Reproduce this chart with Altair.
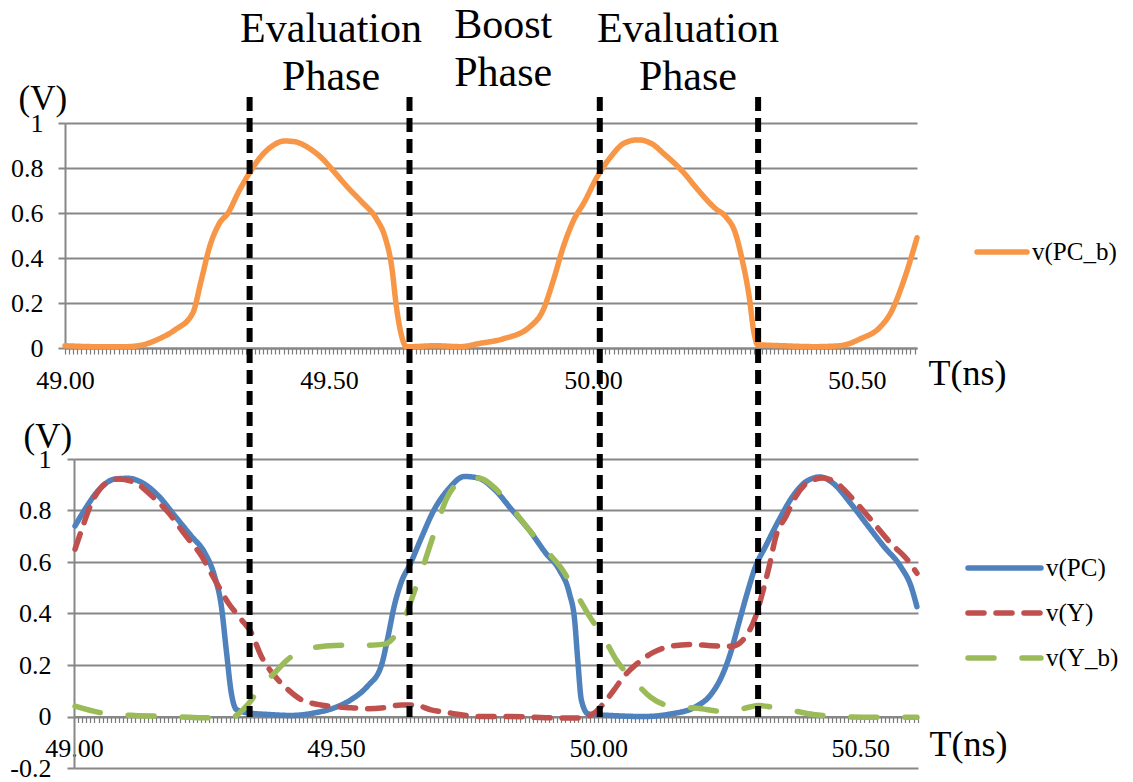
import altair as alt
import pandas as pd

SERIF = "Liberation Serif"
GRID = "#878787"

# ---------------- data ----------------
# time axis (ns)
X_START = 49.0
X_END_TOP = 50.614
X_END_BOT = 50.61
TICK_LABELS = [49.0, 49.5, 50.0, 50.5]
TICK_STEP = 0.5 / 64          # spacing of the minor ticks on the time axis
Y_TICKS_TOP = [0, 0.2, 0.4, 0.6, 0.8, 1]
Y_TICKS_BOT = [-0.2, 0, 0.2, 0.4, 0.6, 0.8, 1]

# phase boundaries and phase captions
PHASE_BOUNDS = [49.335, 49.64, 50.003, 50.305]
PHASE_NAMES = ["Evaluation\nPhase", "Boost\nPhase", "Evaluation\nPhase"]
PHASE_CENTERS = [49.504, 49.83, 50.18]

# v(PC_b)
pcb_t = [49.000, 49.050, 49.100, 49.132, 49.182, 49.208, 49.242, 49.258, 49.274, 49.293,
         49.309, 49.328, 49.350, 49.369, 49.391, 49.416, 49.435, 49.461, 49.486, 49.511,
         49.537, 49.562, 49.591, 49.606, 49.619, 49.628, 49.638, 49.647, 49.700, 49.750,
         49.785, 49.829, 49.881, 49.906, 49.925, 49.944, 49.964, 49.983, 50.008, 50.034,
         50.059, 50.085, 50.110, 50.136, 50.168, 50.200, 50.232, 50.251, 50.270, 50.283,
         50.296, 50.305, 50.312, 50.360, 50.420, 50.468, 50.506, 50.545, 50.564, 50.589,
         50.614]
pcb_v = [0.010, 0.006, 0.005, 0.008, 0.045, 0.080, 0.155, 0.300, 0.450, 0.556,
         0.600, 0.690, 0.780, 0.845, 0.895, 0.920, 0.917, 0.890, 0.845, 0.780,
         0.710, 0.650, 0.570, 0.495, 0.360, 0.180, 0.050, 0.005, 0.010, 0.006,
         0.020, 0.040, 0.095, 0.170, 0.300, 0.450, 0.570, 0.645, 0.760, 0.850,
         0.910, 0.925, 0.910, 0.860, 0.790, 0.700, 0.620, 0.585, 0.510, 0.390,
         0.230, 0.070, 0.015, 0.010, 0.006, 0.010, 0.040, 0.095, 0.155, 0.300,
         0.490]

# v(PC)
pc_t = [49.002, 49.021, 49.046, 49.078, 49.103, 49.129, 49.161, 49.192, 49.224, 49.249,
        49.268, 49.281, 49.291, 49.300, 49.310, 49.332, 49.370, 49.414, 49.459, 49.497,
        49.529, 49.560, 49.586, 49.598, 49.611, 49.624, 49.642, 49.661, 49.687, 49.713,
        49.745, 49.771, 49.803, 49.835, 49.868, 49.900, 49.926, 49.945, 49.955, 49.961,
        49.968, 49.981, 50.023, 50.087, 50.139, 50.184, 50.216, 50.235, 50.252, 50.268,
        50.284, 50.300, 50.319, 50.345, 50.371, 50.397, 50.423, 50.448, 50.481, 50.513,
        50.545, 50.577, 50.597, 50.608]
pc_v = [0.740, 0.805, 0.877, 0.922, 0.925, 0.909, 0.857, 0.780, 0.700, 0.637,
        0.546, 0.430, 0.248, 0.092, 0.027, 0.014, 0.008, 0.004, 0.014, 0.034,
        0.066, 0.118, 0.196, 0.300, 0.430, 0.520, 0.595, 0.686, 0.803, 0.880,
        0.932, 0.926, 0.880, 0.803, 0.725, 0.634, 0.569, 0.478, 0.374, 0.218,
        0.062, 0.010, 0.004, 0.000, 0.010, 0.036, 0.088, 0.153, 0.244, 0.361,
        0.478, 0.582, 0.660, 0.764, 0.855, 0.913, 0.930, 0.906, 0.829, 0.744,
        0.660, 0.582, 0.504, 0.426]

# v(Y)
y_t = [49.002, 49.015, 49.034, 49.059, 49.084, 49.116, 49.148, 49.180, 49.211, 49.243,
       49.268, 49.294, 49.319, 49.338, 49.357, 49.383, 49.408, 49.433, 49.465, 49.497,
       49.529, 49.560, 49.592, 49.624, 49.649, 49.681, 49.719, 49.771, 49.835, 49.900,
       49.965, 49.990, 50.010, 50.029, 50.048, 50.074, 50.106, 50.139, 50.177, 50.216,
       50.255, 50.281, 50.300, 50.313, 50.326, 50.339, 50.358, 50.377, 50.403, 50.429,
       50.455, 50.487, 50.526, 50.558, 50.590, 50.608]
y_v = [0.650, 0.728, 0.831, 0.903, 0.922, 0.909, 0.857, 0.792, 0.708, 0.624,
       0.533, 0.442, 0.377, 0.326, 0.235, 0.157, 0.105, 0.066, 0.047, 0.038,
       0.034, 0.030, 0.034, 0.045, 0.045, 0.026, 0.013, 0.000, 0.000, -0.005,
       -0.006, 0.010, 0.050, 0.100, 0.153, 0.205, 0.250, 0.273, 0.280, 0.275,
       0.273, 0.310, 0.387, 0.478, 0.582, 0.700, 0.777, 0.855, 0.913, 0.926,
       0.906, 0.842, 0.750, 0.673, 0.608, 0.556]

# v(Y_b)
yb_t = [49.002, 49.053, 49.116, 49.180, 49.243, 49.300, 49.313, 49.332, 49.357, 49.383,
        49.408, 49.433, 49.465, 49.497, 49.529, 49.560, 49.592, 49.611, 49.629, 49.648,
        49.668, 49.687, 49.713, 49.745, 49.771, 49.803, 49.835, 49.868, 49.900, 49.932,
        49.958, 49.984, 50.010, 50.035, 50.068, 50.100, 50.132, 50.165, 50.197, 50.229,
        50.261, 50.287, 50.306, 50.332, 50.371, 50.410, 50.461, 50.526, 50.608]
yb_v = [0.040, 0.014, 0.004, 0.001, -0.005, -0.005, 0.010, 0.047, 0.118, 0.170,
        0.222, 0.254, 0.270, 0.276, 0.277, 0.277, 0.281, 0.310, 0.374, 0.478,
        0.595, 0.712, 0.855, 0.920, 0.926, 0.887, 0.810, 0.725, 0.647, 0.569,
        0.478, 0.387, 0.309, 0.218, 0.140, 0.075, 0.043, 0.036, 0.030, 0.021,
        0.023, 0.036, 0.043, 0.036, 0.023, 0.008, 0.000, -0.003, -0.003]

# line styles per series
STYLE = {
    "v(PC_b)": {"color": "#F79646", "dash": [1, 0]},
    "v(PC)": {"color": "#4F81BD", "dash": [1, 0]},
    "v(Y)": {"color": "#C0504D", "dash": [16, 12]},
    "v(Y_b)": {"color": "#9BBB59", "dash": [26, 28]},
}
LINE_W = 5.5


def frame(t, v):
    return pd.DataFrame({"t": t, "v": v})


def minor_ticks(end):
    n = int(round((end - X_START) / TICK_STEP))
    vals = {round(X_START + k * TICK_STEP, 7) for k in range(n + 1)}
    vals.update(TICK_LABELS)
    return sorted(v for v in vals if v <= end)


LABEL_EXPR = ("abs(datum.value * 2 - round(datum.value * 2)) < 0.001 "
              "? format(datum.value, '.2f') : ''")


def x_axis(end, title_x, title_y, offset=0):
    return alt.Axis(
        values=minor_ticks(end), labelExpr=LABEL_EXPR, labelOverlap=False,
        labelFlush=False, labelBound=False, grid=False,
        tickSize=6, tickWidth=1.2, tickColor="#7a7a7a", domainColor=GRID, domainWidth=2,
        labelFont=SERIF, labelFontSize=26, labelColor="black", labelPadding=13,
        title="T(ns)", titleFont=SERIF, titleFontSize=36, titleFontWeight="normal",
        titleColor="black", titleAngle=0, titleAlign="left", titleBaseline="alphabetic",
        titleX=title_x, titleY=title_y, offset=offset,
    )


def y_axis(values, title_x, title_y, pad):
    return alt.Axis(
        values=values, labelExpr="'' + datum.value", grid=True, gridColor=GRID,
        gridWidth=2, tickSize=7, tickWidth=2, tickColor=GRID, domainColor=GRID,
        domainWidth=2, labelFont=SERIF, labelFontSize=26, labelColor="black",
        labelPadding=pad, title="(V)", titleFont=SERIF, titleFontSize=35,
        titleFontWeight="normal", titleColor="black", titleAngle=0, titleAlign="left",
        titleBaseline="alphabetic", titleX=title_x, titleY=title_y,
    )


def series_line(name, t, v, xs, ys, xa, ya):
    st = STYLE[name]
    return alt.Chart(frame(t, v)).mark_line(
        color=st["color"], strokeWidth=LINE_W, strokeDash=st["dash"],
        interpolate="monotone", strokeCap="round", strokeJoin="round",
    ).encode(
        x=alt.X("t:Q", scale=xs, axis=xa),
        y=alt.Y("v:Q", scale=ys, axis=ya),
    )


def legend_item(name, x0, x1, y, text_x):
    st = STYLE[name]
    d = pd.DataFrame({"label": [name]})
    swatch = alt.Chart(d).mark_rule(
        color=st["color"], strokeWidth=LINE_W, strokeDash=st["dash"], strokeCap="round"
    ).encode(x=alt.value(x0), x2=alt.value(x1), y=alt.value(y))
    label = alt.Chart(d).mark_text(
        font=SERIF, fontSize=25, align="left", baseline="middle", color="black"
    ).encode(x=alt.value(text_x), y=alt.value(y), text="label:N")
    return swatch + label


# ---------------- upper panel: v(PC_b) ----------------
xs_top = alt.Scale(domain=[X_START, X_END_TOP], nice=False, zero=False)
ys_top = alt.Scale(domain=[0, 1], nice=False, zero=False)
xa_top = x_axis(X_END_TOP, 863, 36)
ya_top = y_axis(Y_TICKS_TOP, -47, -14, 15)

phase_df = pd.DataFrame({"t": PHASE_CENTERS, "label": PHASE_NAMES})


def phase_captions(test, y):
    return alt.Chart(phase_df).transform_filter(test).mark_text(
        font=SERIF, fontSize=42, lineBreak="\n", lineHeight=48, align="center",
        baseline="alphabetic", color="black",
    ).encode(
        x=alt.X("t:Q", scale=xs_top, axis=xa_top),
        y=alt.value(y),
        text="label:N",
    )


top = alt.layer(
    series_line("v(PC_b)", pcb_t, pcb_v, xs_top, ys_top, xa_top, ya_top),
    phase_captions("indexof(datum.label, 'Boost') < 0", -81),
    phase_captions("indexof(datum.label, 'Boost') >= 0", -85),
    legend_item("v(PC_b)", 912, 962, 129, 967),
).properties(width=852, height=225)

# ---------------- lower panel: v(PC), v(Y), v(Y_b) ----------------
xs_bot = alt.Scale(domain=[X_START, X_END_BOT], nice=False, zero=False)
ys_bot = alt.Scale(domain=[-0.2, 1], nice=False, zero=False)
xa_bot = x_axis(X_END_BOT, 855, 39, offset=-51.5)
ya_bot = y_axis(Y_TICKS_BOT, -51, -12, 16)

bounds_df = pd.DataFrame({"t": PHASE_BOUNDS})
phase_rules = alt.Chart(bounds_df).mark_rule(
    color="black", strokeWidth=6, strokeDash=[14, 7]
).encode(
    x=alt.X("t:Q", scale=xs_bot, axis=xa_bot),
    y=alt.value(-362),
    y2=alt.value(258),
)

bottom = alt.layer(
    series_line("v(PC)", pc_t, pc_v, xs_bot, ys_bot, xa_bot, ya_bot),
    series_line("v(Y)", y_t, y_v, xs_bot, ys_bot, xa_bot, ya_bot),
    series_line("v(Y_b)", yb_t, yb_v, xs_bot, ys_bot, xa_bot, ya_bot),
    phase_rules,
    legend_item("v(PC)", 894, 967, 109, 972),
    legend_item("v(Y)", 894, 967, 154, 972),
    legend_item("v(Y_b)", 894, 967, 199, 972),
).properties(width=844, height=309)

spacer = alt.Chart(pd.DataFrame({"a": [0]})).mark_point(opacity=0).encode(
    x=alt.value(0), y=alt.value(0)
).properties(width=9, height=309)

chart = alt.vconcat(
    top,
    alt.hconcat(spacer, bottom, spacing=0, bounds="flush"),
    spacing=111,
    bounds="flush",
).configure_view(stroke=None).configure_axis(
    labelFont=SERIF, titleFont=SERIF, labelColor="black", titleColor="black",
).configure_text(font=SERIF).properties(
    padding={"left": 9, "top": 4, "right": 5, "bottom": 5},
    background="white",
)

chart.save("out.html", embed_options={"renderer": "svg", "actions": False})
